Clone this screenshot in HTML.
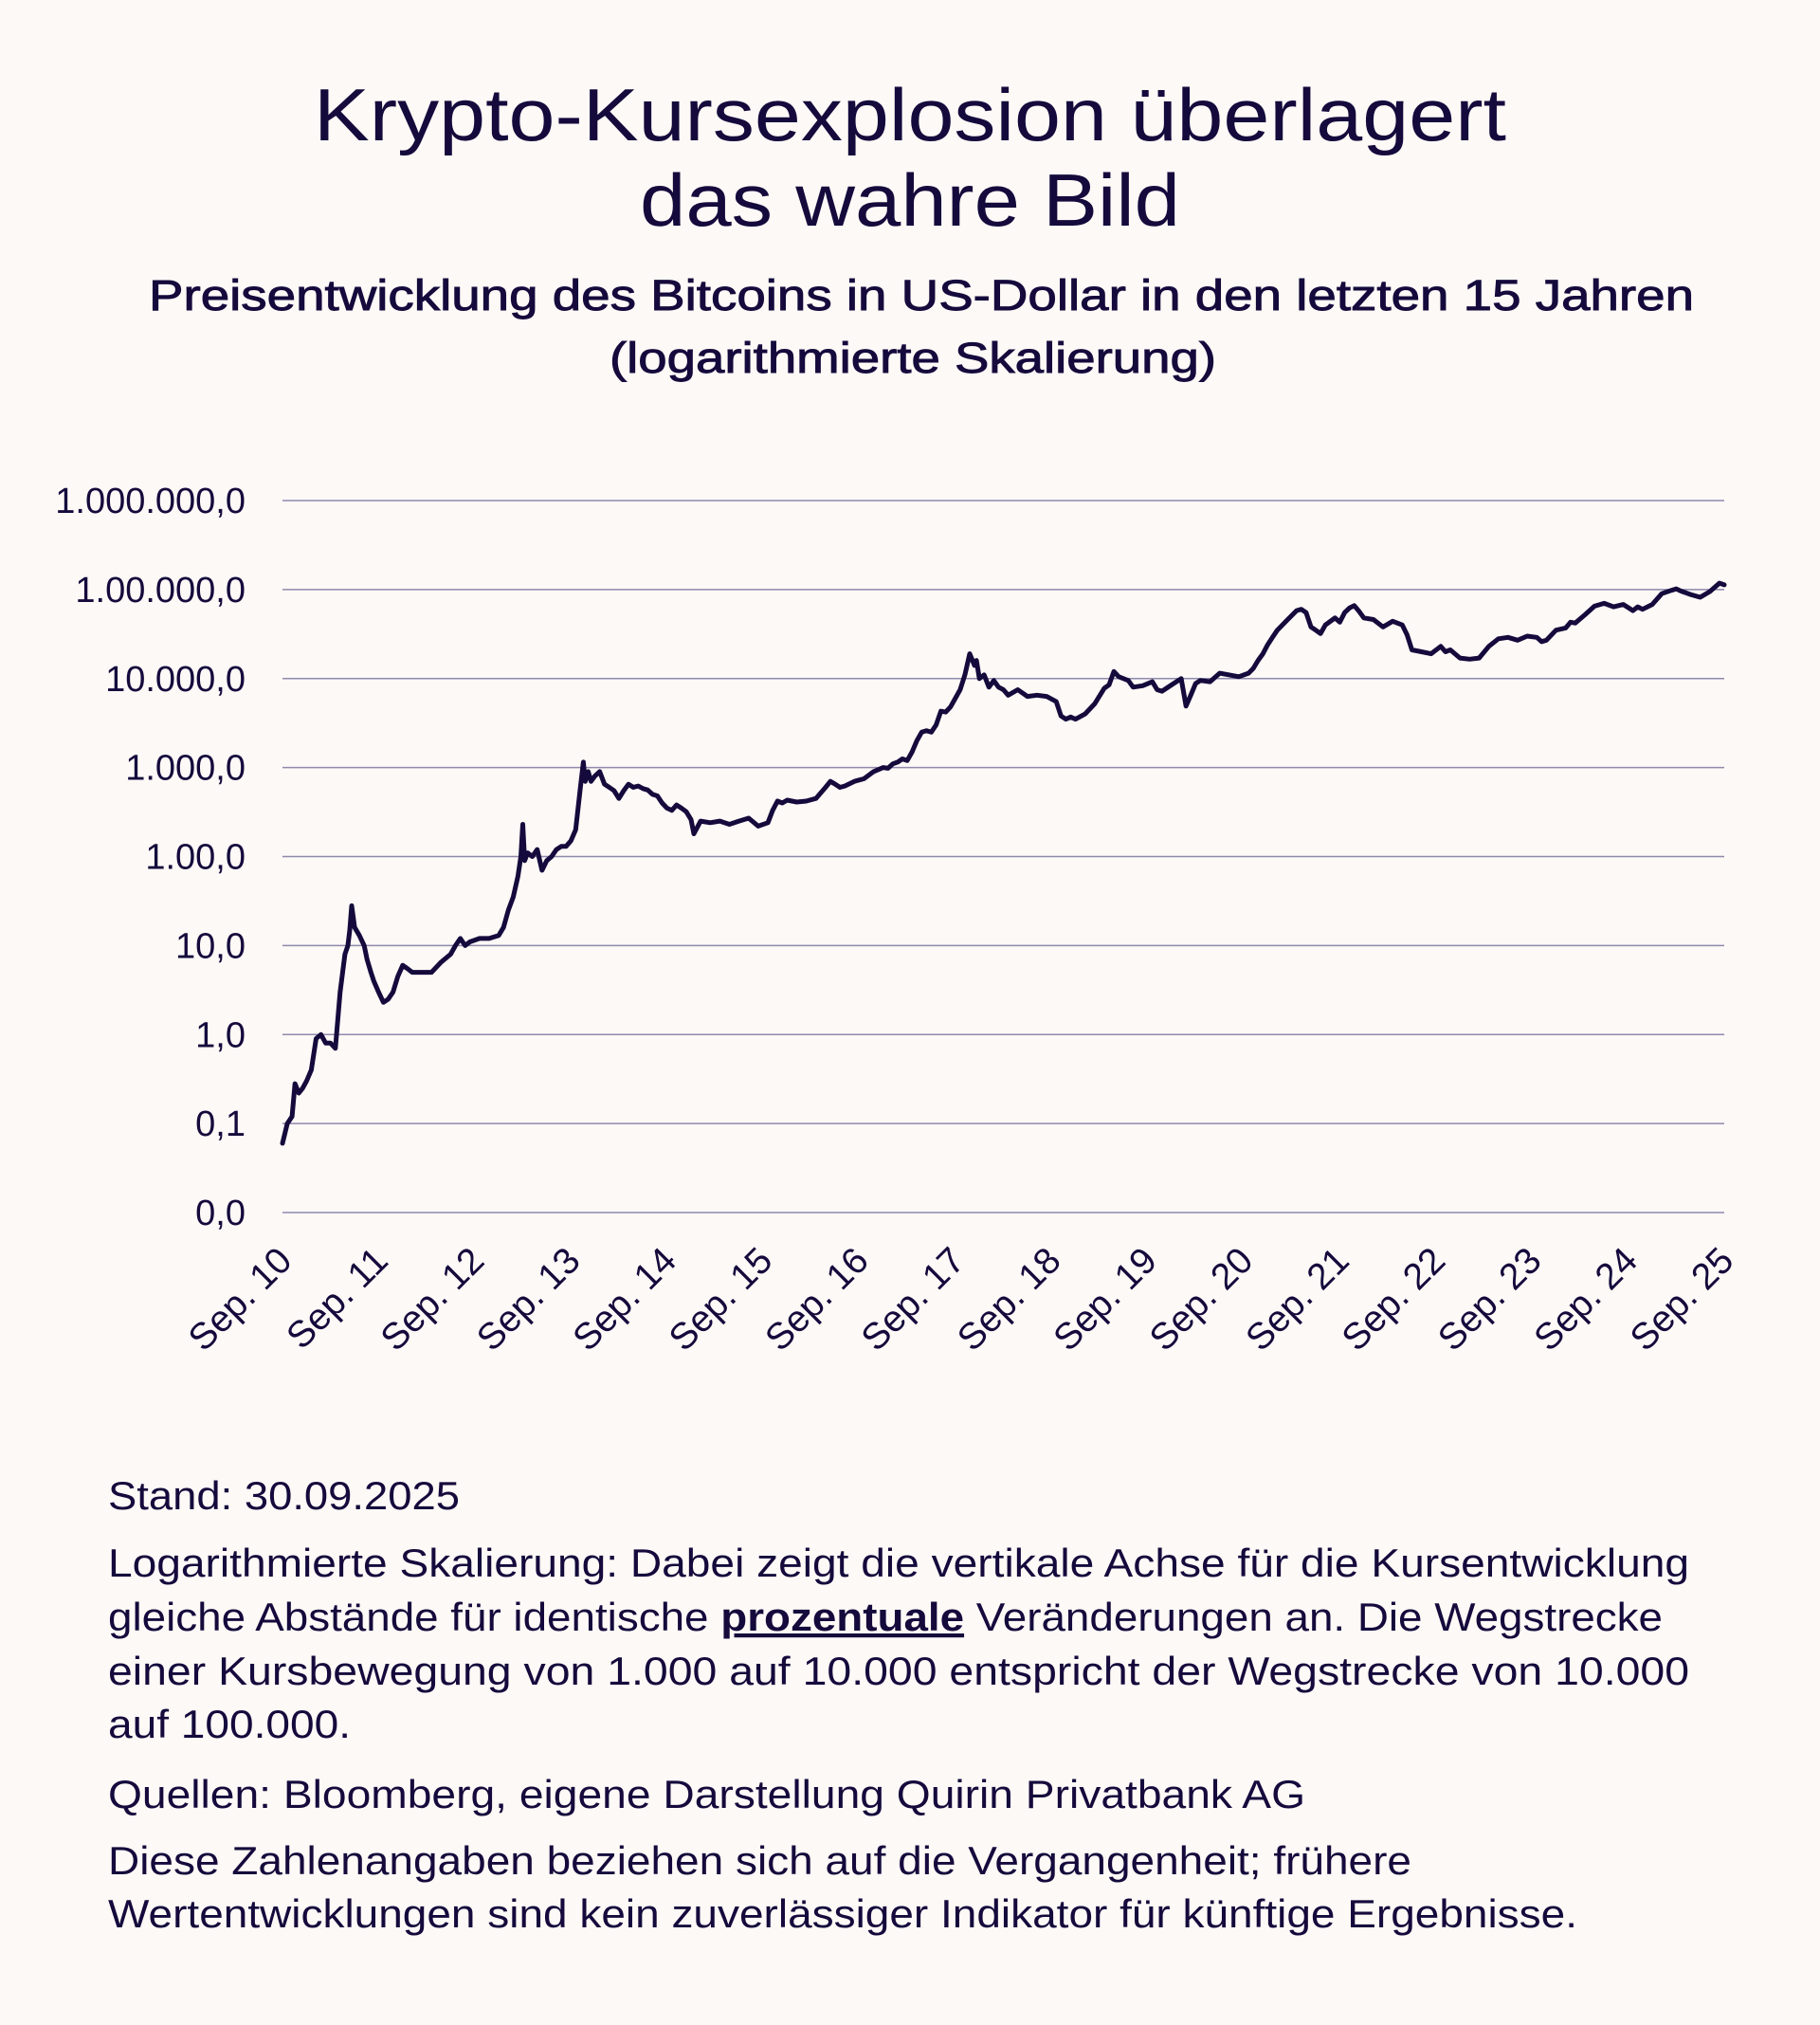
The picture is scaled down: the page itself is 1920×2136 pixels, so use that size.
<!DOCTYPE html>
<html><head><meta charset="utf-8">
<style>
html,body{margin:0;padding:0;background:#fcf9f6;}
body{width:1920px;height:2136px;position:relative;overflow:hidden;font-family:"Liberation Sans",sans-serif;color:#140a3c;}
svg{position:absolute;left:0;top:0;}
</style></head>
<body>
<svg id="page" width="1920" height="2136" viewBox="0 0 1920 2136" xmlns="http://www.w3.org/2000/svg">
<g fill="#140a3c" font-family="Liberation Sans, sans-serif">
<text x="960" y="148" font-size="78" text-anchor="middle" textLength="1258" lengthAdjust="spacingAndGlyphs">Krypto-Kursexplosion überlagert</text>
<text x="960" y="238" font-size="78" text-anchor="middle" textLength="570" lengthAdjust="spacingAndGlyphs">das wahre Bild</text>
<text x="972" y="327" font-size="45" stroke="#140a3c" stroke-width="0.9" text-anchor="middle" textLength="1630" lengthAdjust="spacingAndGlyphs">Preisentwicklung des Bitcoins in US-Dollar in den letzten 15 Jahren</text>
<text x="963" y="393" font-size="45" stroke="#140a3c" stroke-width="0.9" text-anchor="middle" textLength="640" lengthAdjust="spacingAndGlyphs">(logarithmierte Skalierung)</text>
</g>
<g id="grid"></g>
<g id="ylabels"></g>
<g id="xlabels"></g>
<path id="line" fill="none" stroke="#140a3c" stroke-width="5" stroke-linejoin="round" stroke-linecap="round"/>
<g fill="#140a3c" font-family="Liberation Sans, sans-serif" font-size="42">
<text x="114" y="1592" textLength="371" lengthAdjust="spacingAndGlyphs">Stand: 30.09.2025</text>
<text x="114" y="1663" textLength="1668" lengthAdjust="spacingAndGlyphs">Logarithmierte Skalierung: Dabei zeigt die vertikale Achse für die Kursentwicklung</text>
<text x="114" y="1720" textLength="1640" lengthAdjust="spacingAndGlyphs">gleiche Abstände für identische <tspan font-weight="bold" text-decoration="underline">prozentuale</tspan> Veränderungen an. Die Wegstrecke</text>
<text x="114" y="1777" textLength="1668" lengthAdjust="spacingAndGlyphs">einer Kursbewegung von 1.000 auf 10.000 entspricht der Wegstrecke von 10.000</text>
<text x="114" y="1833" textLength="256" lengthAdjust="spacingAndGlyphs">auf 100.000.</text>
<text x="114" y="1907" textLength="1263" lengthAdjust="spacingAndGlyphs">Quellen: Bloomberg, eigene Darstellung Quirin Privatbank AG</text>
<text x="114" y="1977" textLength="1375" lengthAdjust="spacingAndGlyphs">Diese Zahlenangaben beziehen sich auf die Vergangenheit; frühere</text>
<text x="114" y="2033" textLength="1550" lengthAdjust="spacingAndGlyphs">Wertentwicklungen sind kein zuverlässiger Indikator für künftige Ergebnisse.</text>
</g>
</svg>
<script>
const yTickValues = [0.01, 0.1, 1, 10, 100, 1000, 10000, 100000, 1000000];
const yTickLabels = ["0,0", "0,1", "1,0", "10,0", "1.00,0", "1.000,0", "10.000,0", "1.00.000,0", "1.000.000,0"];
const xTickYears = [2010,2011,2012,2013,2014,2015,2016,2017,2018,2019,2020,2021,2022,2023,2024,2025];
const xTickLabels = ["Sep. 10","Sep. 11","Sep. 12","Sep. 13","Sep. 14","Sep. 15","Sep. 16","Sep. 17","Sep. 18","Sep. 19","Sep. 20","Sep. 21","Sep. 22","Sep. 23","Sep. 24","Sep. 25"];
const dates = [2010.75,2010.8,2010.85,2010.88,2010.92,2010.96,2011.0,2011.05,2011.1,2011.15,2011.2,2011.25,2011.3,2011.35,2011.4,2011.43,2011.45,2011.47,2011.5,2011.55,2011.6,2011.63,2011.67,2011.7,2011.75,2011.8,2011.85,2011.9,2011.95,2012.0,2012.05,2012.1,2012.2,2012.3,2012.4,2012.5,2012.55,2012.6,2012.65,2012.7,2012.8,2012.9,2013.0,2013.05,2013.1,2013.15,2013.2,2013.23,2013.25,2013.27,2013.3,2013.35,2013.4,2013.45,2013.5,2013.55,2013.6,2013.65,2013.7,2013.75,2013.8,2013.85,2013.88,2013.9,2013.93,2013.96,2014.0,2014.05,2014.1,2014.15,2014.2,2014.25,2014.3,2014.35,2014.4,2014.45,2014.5,2014.55,2014.6,2014.65,2014.7,2014.75,2014.8,2014.85,2014.9,2014.95,2015.0,2015.03,2015.1,2015.2,2015.3,2015.4,2015.5,2015.6,2015.7,2015.8,2015.85,2015.9,2015.95,2016.0,2016.1,2016.2,2016.3,2016.4,2016.45,2016.5,2016.55,2016.6,2016.7,2016.8,2016.9,2017.0,2017.05,2017.1,2017.15,2017.2,2017.25,2017.3,2017.35,2017.4,2017.45,2017.5,2017.55,2017.6,2017.65,2017.7,2017.75,2017.8,2017.85,2017.9,2017.95,2017.97,2018.0,2018.05,2018.1,2018.15,2018.2,2018.25,2018.3,2018.4,2018.5,2018.6,2018.7,2018.8,2018.85,2018.9,2018.95,2019.0,2019.1,2019.2,2019.3,2019.35,2019.4,2019.45,2019.5,2019.55,2019.6,2019.7,2019.8,2019.85,2019.9,2020.0,2020.1,2020.15,2020.2,2020.25,2020.3,2020.4,2020.5,2020.6,2020.7,2020.8,2020.85,2020.9,2020.95,2021.0,2021.05,2021.1,2021.2,2021.3,2021.35,2021.4,2021.45,2021.5,2021.55,2021.6,2021.7,2021.75,2021.8,2021.85,2021.9,2021.95,2022.0,2022.1,2022.2,2022.3,2022.4,2022.45,2022.5,2022.6,2022.7,2022.8,2022.85,2022.9,2023.0,2023.1,2023.2,2023.3,2023.4,2023.5,2023.6,2023.7,2023.8,2023.85,2023.9,2024.0,2024.1,2024.15,2024.2,2024.3,2024.4,2024.5,2024.6,2024.7,2024.8,2024.85,2024.9,2025.0,2025.1,2025.2,2025.25,2025.3,2025.4,2025.5,2025.6,2025.65,2025.7,2025.75];
const prices = [0.06,0.1,0.12,0.28,0.22,0.25,0.3,0.4,0.9,1.0,0.8,0.8,0.7,3,8,10,15,28,16,13,10,7,5,4,3,2.3,2.5,3,4.5,6,5.5,5,5,5,6.5,8,10,12,10,11,12,12,13,16,25,35,60,100,230,90,110,100,120,70,90,100,120,130,130,150,200,600,1150,700,900,700,800,900,650,600,550,450,550,650,600,620,580,560,500,480,400,350,330,380,350,320,260,180,250,240,250,230,250,270,220,240,330,420,400,430,410,420,450,600,700,650,600,620,700,750,900,1000,980,1100,1150,1250,1200,1500,2000,2500,2600,2500,3000,4300,4200,4800,6000,7500,11000,19000,14000,16000,10000,11000,8000,9500,8000,7500,6500,7500,6300,6500,6300,5500,3800,3500,3700,3500,4000,5200,7800,8500,12000,10500,10000,9500,8000,8300,9200,7500,7200,8500,10000,4900,6500,8800,9500,9200,11500,11000,10500,11500,13000,16000,19000,24000,29000,35000,45000,58000,60000,55000,38000,35000,32000,40000,48000,43000,55000,62000,66000,57000,48000,46000,38000,44000,40000,31000,21000,20000,19000,23000,20000,21000,17000,16500,17000,23000,28000,29000,27000,30000,29000,26000,27000,35000,37000,43000,42000,52000,65000,70000,64000,68000,58000,64000,60000,68000,90000,98000,102000,96000,88000,82000,95000,106000,118000,113000,117000,112000,114000];

const X0 = 298, X1 = 1819, Ytop = 528, Ybot = 1279;
function xScale(t){ return X0 + (t - 2010.75) / 15 * (X1 - X0); }
function yScale(v){ return Ybot - (Math.log10(v) + 2) / 8 * (Ybot - Ytop); }
const NS = "http://www.w3.org/2000/svg";
const grid = document.getElementById('grid');
const yl = document.getElementById('ylabels');
yTickValues.forEach((v,i)=>{
  const y = yScale(v);
  const ln = document.createElementNS(NS,'line');
  ln.setAttribute('x1',X0); ln.setAttribute('x2',X1);
  ln.setAttribute('y1',y); ln.setAttribute('y2',y);
  ln.setAttribute('stroke','#8f89ad'); ln.setAttribute('stroke-width','1.6');
  
  
  grid.appendChild(ln);
  const tx = document.createElementNS(NS,'text');
  tx.setAttribute('x',259); tx.setAttribute('y',y+13);
  tx.setAttribute('text-anchor','end'); tx.setAttribute('font-size','38');
  tx.setAttribute('fill','#140a3c'); tx.setAttribute('font-family','Liberation Sans, sans-serif');
  tx.textContent = yTickLabels[i];
  
  
  yl.appendChild(tx);
});
const xl = document.getElementById('xlabels');
xTickYears.forEach((yr,i)=>{
  const x = xScale(yr + 0.75);
  const tx = document.createElementNS(NS,'text');
  tx.setAttribute('transform','translate('+(x+12)+',1332) rotate(-45)');
  tx.setAttribute('text-anchor','end'); tx.setAttribute('font-size','39');
  tx.setAttribute('fill','#140a3c'); tx.setAttribute('font-family','Liberation Sans, sans-serif');
  tx.textContent = xTickLabels[i];
  
  
  xl.appendChild(tx);
});
let d = '';
dates.forEach((t,i)=>{ d += (i? 'L':'M') + xScale(t).toFixed(1) + ',' + yScale(prices[i]).toFixed(1); });
document.getElementById('line').setAttribute('d', d);
</script>
</body></html>
